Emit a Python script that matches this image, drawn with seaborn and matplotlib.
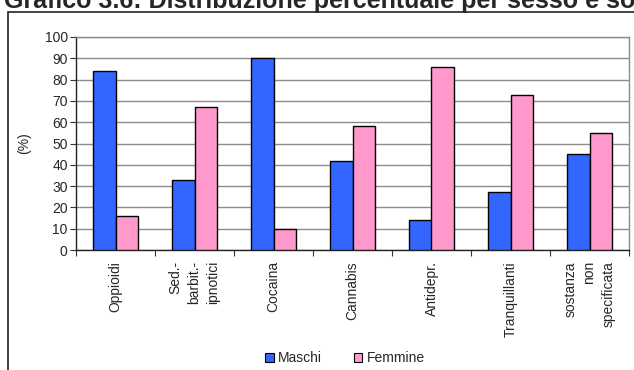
import matplotlib
matplotlib.use("Agg")
import matplotlib.pyplot as plt
from matplotlib.patches import Rectangle, Patch
import seaborn as sns
import pandas as pd

categories = ["Oppioidi", "Sed.-\nbarbit.-\nipnotici", "Cocaina", "Cannabis",
              "Antidepr.", "Tranquillanti", "sostanza\nnon\nspecificata"]
maschi = [84, 33, 90, 42, 14, 27, 45]
femmine = [16, 67, 10, 58, 86, 73, 55]
series = ["Maschi", "Femmine"]
colors = ["#3366FF", "#FF99CC"]
yticks = list(range(0, 101, 10))
title = "Grafico 3.6: Distribuzione percentuale per sesso e sostanza"

df = pd.DataFrame({
    "Sostanza": categories * 2,
    "Sesso": [series[0]] * len(categories) + [series[1]] * len(categories),
    "Valore": maschi + femmine,
})

sns.set_style("white")
plt.rcParams["font.family"] = ["Liberation Sans", "DejaVu Sans"]

FS = 10
W, H = 634, 370
fig = plt.figure(figsize=(W / 100, H / 100), dpi=100)
ax = fig.add_axes([76 / W, 1 - 250 / H, (629 - 76) / W, (250 - 37) / H])

sns.barplot(data=df, x="Sostanza", y="Valore", hue="Sesso", order=categories,
            hue_order=series, palette=colors, width=0.58, saturation=1,
            edgecolor="black", linewidth=1.0, ax=ax, legend=False, zorder=3)

ax.set_ylim(0, 100)
ax.set_xlim(-0.5, len(categories) - 0.5)
ax.set_yticks(yticks)
ax.set_yticklabels([str(v) for v in yticks], fontsize=FS)
ax.yaxis.grid(True, color="#8c8c8c", linewidth=1.0, zorder=0)
ax.set_axisbelow(True)

# category separators as minor ticks on x
ax.set_xticks(range(len(categories)))
ax.set_xticklabels(categories, rotation=90, fontsize=FS, va="top", ha="center",
                   multialignment="right", linespacing=1.45)
ax.set_xticks([i + 0.5 for i in range(-1, len(categories))], minor=True)
ax.tick_params(axis="x", which="major", length=0, pad=8)
ax.tick_params(axis="x", which="minor", length=4, width=0.8, color="#333333",
               direction="out", bottom=True)
ax.tick_params(axis="y", length=4, width=0.8, color="#333333", direction="out",
               left=True, pad=2)

ax.set_xlabel("")
ax.set_ylabel("(%)", fontsize=FS, labelpad=10)

for side in ["left", "bottom"]:
    ax.spines[side].set_color("#222222")
    ax.spines[side].set_linewidth(1.0)
for side in ["top", "right"]:
    ax.spines[side].set_color("#8c8c8c")
    ax.spines[side].set_linewidth(1.0)

handles = [Patch(facecolor=c, edgecolor="black", linewidth=0.8) for c in colors]
fig.legend(handles, series, loc="center", bbox_to_anchor=(345 / W, 1 - 358 / H),
           ncol=2, frameon=False, fontsize=FS, handlelength=0.6, handleheight=0.6,
           handletextpad=0.3, columnspacing=2.3)

# outer chart-area border
fig.patches.append(Rectangle((8 / W, -0.1), 1.2, 1 - 12 / H + 0.1,
                             transform=fig.transFigure, fill=False,
                             edgecolor="#222222", linewidth=1.2))

fig.text(4 / W, 1 - 8 / H, title, fontsize=18, fontweight="bold",
         ha="left", va="baseline")

fig.savefig("out.png", dpi=100, facecolor="white")
